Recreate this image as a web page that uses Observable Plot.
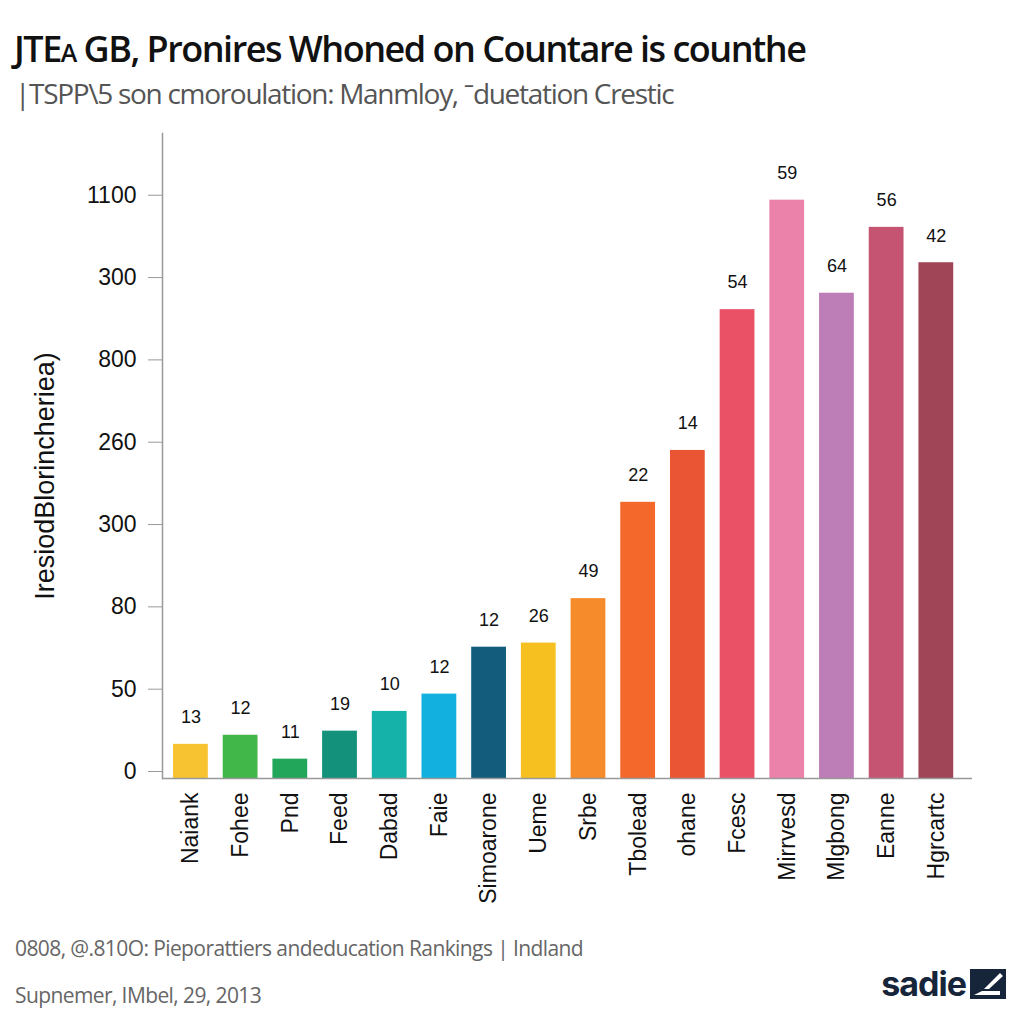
<!DOCTYPE html>
<html>
<head>
<meta charset="utf-8">
<script src="https://cdn.jsdelivr.net/npm/d3@7"></script>
<script src="https://cdn.jsdelivr.net/npm/@observablehq/plot@0.6"></script>
<style>
  body { margin: 0; background: #fff; width: 1024px; height: 1024px; position: relative; overflow: hidden; font-family: "Liberation Sans", Arial, sans-serif; }
  #title { position: absolute; left: 14px; top: 24px; font-family: "Open Sans", sans-serif; font-weight: 600; font-size: 36px; color: #111; letter-spacing: -1.5px; white-space: nowrap; }
  #subtitle { position: absolute; left: 15px; top: 74px; font-family: "Open Sans", sans-serif; font-weight: 400; font-size: 28px; color: #555; letter-spacing: -1.3px; white-space: nowrap; }
  #chart { position: absolute; left: 0; top: 120px; }
  .cap { position: absolute; left: 15px; font-family: "Open Sans", sans-serif; font-size: 21px; color: #666; letter-spacing: -0.6px; white-space: nowrap; }
  #logo { position: absolute; right: 18px; top: 963px; display: flex; align-items: center; gap: 4px; font-family: "Inter", "Noto Sans", sans-serif; font-weight: 700; font-size: 34px; color: #16253a; letter-spacing: -1px; }
</style>
</head>
<body>
<div id="title">JTE<span style="font-size:25px">A</span> GB, Pronires Whoned on Countare is counthe</div>
<div id="subtitle">|TSPP\5 son cmoroulation: Manmloy, ˉduetation Crestic</div>
<div id="chart"></div>
<div class="cap" style="top:934px">0808, @.810O: Pieporattiers andeducation Rankings | Indland</div>
<div class="cap" style="top:981px">Supnemer, IMbel, 29, 2013</div>
<div id="logo"><span>sadie</span><svg width="36" height="30" viewBox="0 0 36 30"><rect x="0" y="0" width="36" height="30" fill="#16253a"/><path d="M4 26 L30 26 L30 22 L12 22 Z M14 20 L30 4 L33 7 L19 20 Z" fill="#fff"/></svg></div>
<script>
const categories = ["Naiank","Fohee","Pnd","Feed","Dabad","Faie","Simoarone","Ueme","Srbe","Tbolead","ohane","Fcesc","Mirrvesd","Mlgbong","Eanne","Hgrcartc"];
const heights = [0.33,0.44,0.15,0.49,0.73,0.94,1.51,1.56,2.10,3.27,3.90,5.61,6.94,5.81,6.61,6.18];
const barLabels = ["13","12","11","19","10","12","12","26","49","22","14","54","59","64","56","42"];
const colors = ["#f7c331","#41b649","#21a65a","#13917a","#14b2a8","#12b0de","#135c7c","#f6c120","#f68b2c","#f4682b","#ea5533","#ea5066","#ea82aa","#bd7db6","#c55473","#a04457"];
const yTickLabels = ["0","50","80","300","260","800","300","1100"];
const yTitle = "IresiodBlorincheriea)";

const data = categories.map((c, i) => ({cat: c, h: heights[i], label: barLabels[i], color: colors[i]}));
const yMin = -0.085;

const chart = Plot.plot({
  width: 1024,
  height: 795,
  marginLeft: 162,
  marginRight: 52,
  marginTop: 13,
  marginBottom: 137,
  style: {fontFamily: "'Liberation Sans', Arial, sans-serif", background: "transparent"},
  x: {domain: categories, paddingInner: 0.3, paddingOuter: 0.3, align: 0.37, round: false, label: null},
  y: {domain: [yMin, 7.75], label: null},
  marks: [
    Plot.barY(data, {x: "cat", y1: yMin, y2: "h", fill: "color"}),
    Plot.text(data, {x: "cat", y: "h", text: "label", dy: -27, fontSize: 18, fill: "#111"}),
    Plot.ruleY([yMin], {stroke: "#999", strokeWidth: 1.5}),
    Plot.frame({anchor: "left", stroke: "#999", strokeWidth: 1.5}),
    Plot.axisY(d3.range(yTickLabels.length), {tickFormat: d => yTickLabels[d], tickSize: 14, tickPadding: 12, fontSize: 23, stroke: "#999", fill: "#111", label: null}),
    Plot.axisX({tickRotate: -90, tickSize: 0, tickPadding: 14, fontSize: 23, fill: "#111", label: null}),
    Plot.text([yTitle], {frameAnchor: "middle", dx: -522, dy: 20, rotate: -90, fontSize: 27, fill: "#111"})
  ]
});
document.getElementById("chart").appendChild(chart);
</script>
</body>
</html>
